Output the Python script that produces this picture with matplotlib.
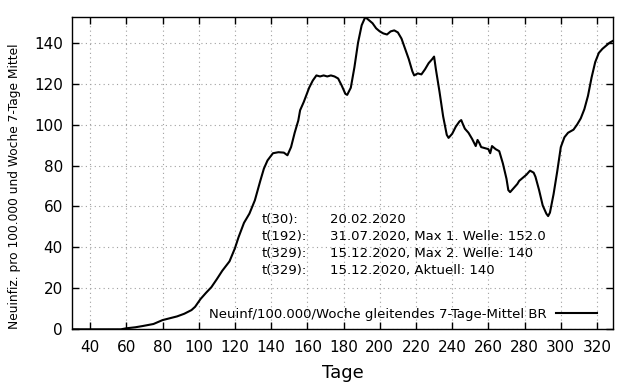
import matplotlib
matplotlib.use('Agg')
import matplotlib.pyplot as plt

# Tag -> Neuinfektionen pro 100.000 und Woche (gleitendes 7-Tage-Mittel)
tage = [30, 40, 50, 57, 60, 65, 69, 75, 80, 84, 88, 92, 96, 98, 101, 104, 107, 110,
        113, 117, 120, 122, 125, 128, 131, 134, 136, 138, 141, 144, 147, 149, 151,
        153, 155, 156, 158, 161, 163, 165, 167, 169, 171, 173, 175, 177, 179, 181,
        182, 184, 186, 188, 190, 192, 194, 196, 198, 200, 202, 204, 206, 208, 210,
        212, 214, 216, 218, 219, 221, 223, 225, 227, 229, 230, 231, 233, 235, 237,
        238, 240, 242, 244, 245, 246, 247, 249, 251, 253, 254, 255, 256, 258, 260,
        261, 262, 264, 266, 268, 270, 271, 272, 274, 276, 277, 279, 281, 283, 285,
        286, 288, 290, 292, 293, 294, 296, 298, 300, 302, 304, 306, 307, 309, 311,
        313, 315, 317, 319, 321, 323, 325, 327, 329]
neuinf = [0, 0, 0, 0, 0.5, 1.0, 1.6, 2.6, 4.5, 5.4, 6.3, 7.6, 9.4, 11.0, 14.8, 17.8,
          20.6, 24.5, 28.6, 33.2, 39.6, 45.0, 52.0, 56.5, 63.0, 72.5, 78.5, 82.5,
          86.0, 86.5, 86.3, 85.0, 89.0, 96.0, 102.0, 107.0, 111.0, 118.0, 121.5,
          124.0, 123.5, 124.0, 123.5, 124.0, 123.5, 122.5, 119.0, 115.0, 114.5,
          118.0, 128.0, 140.0, 148.5, 152.5, 151.0, 149.5, 147.0, 145.5, 144.5,
          144.0, 145.5, 146.0, 145.0, 142.0, 137.0, 132.0, 126.0, 124.0, 125.0,
          124.5, 127.0, 130.0, 132.0, 133.2, 127.0, 116.0, 104.0, 95.0, 93.5, 95.5,
          99.0, 101.5, 102.2, 100.0, 98.0, 96.0, 93.0, 89.5, 92.5, 91.0, 89.0,
          88.5, 88.0, 86.0, 89.5, 88.0, 87.0, 81.0, 73.5, 68.0, 67.0, 69.0, 71.0,
          72.5, 74.0, 75.5, 77.5, 76.5, 74.5, 68.0, 60.5, 56.5, 55.3, 57.0, 66.0,
          77.0, 89.0, 93.8, 96.0, 97.0, 97.5, 100.0, 103.0, 107.5, 114.0, 123.0,
          130.5, 135.0, 137.0, 138.5, 140.0, 141.0]

info_labels = ['t(30):', 't(192):', 't(329):', 't(329):']
info_texts = ['20.02.2020', '31.07.2020, Max 1. Welle: 152.0',
              '15.12.2020, Max 2. Welle: 140', '15.12.2020, Aktuell: 140']

fig = plt.figure(figsize=(6.4, 3.84), dpi=100)
ax = fig.add_axes([0.1125, 0.1424, 0.8458, 0.8126])

ax.plot(tage, neuinf, color='black', linewidth=1.5,
        label='Neuinf/100.000/Woche gleitendes 7-Tage-Mittel BR')

ax.set_xlim(30, 329)
ax.set_ylim(0, 152.4)
ax.set_xticks(range(40, 321, 20))
ax.set_yticks(range(0, 141, 20))
ax.tick_params(direction='in', length=5, width=1, top=True, right=True,
               labelsize=11, colors='black', pad=6.5)
ax.tick_params(axis='x', pad=7.5)
ax.grid(True, color='#a0a0a0', linestyle=(0, (1, 3)), linewidth=0.8)
for s in ax.spines.values():
    s.set_linewidth(1)

ax.set_xlabel('Tage', fontsize=13, labelpad=6.5)
ax.set_ylabel('Neuinfiz. pro 100.000 und Woche 7-Tage Mittel', fontsize=8.8)
ax.yaxis.set_label_coords(-0.094, 0.459)

rows_y = [53.8, 45.1, 36.8, 28.5]
for lab, txt, yv in zip(info_labels, info_texts, rows_y):
    ax.text(135, yv, lab, fontsize=9.5, va='center', ha='left')
    ax.text(172.5, yv, txt, fontsize=9.5, va='center', ha='left')

ax.legend(loc='center right', bbox_to_anchor=(0.97, 0.049), markerfirst=False,
          frameon=False, fontsize=9.5, handlelength=3.1, borderpad=0,
          borderaxespad=0, handletextpad=0.7)

fig.savefig('out.png', dpi=100)
